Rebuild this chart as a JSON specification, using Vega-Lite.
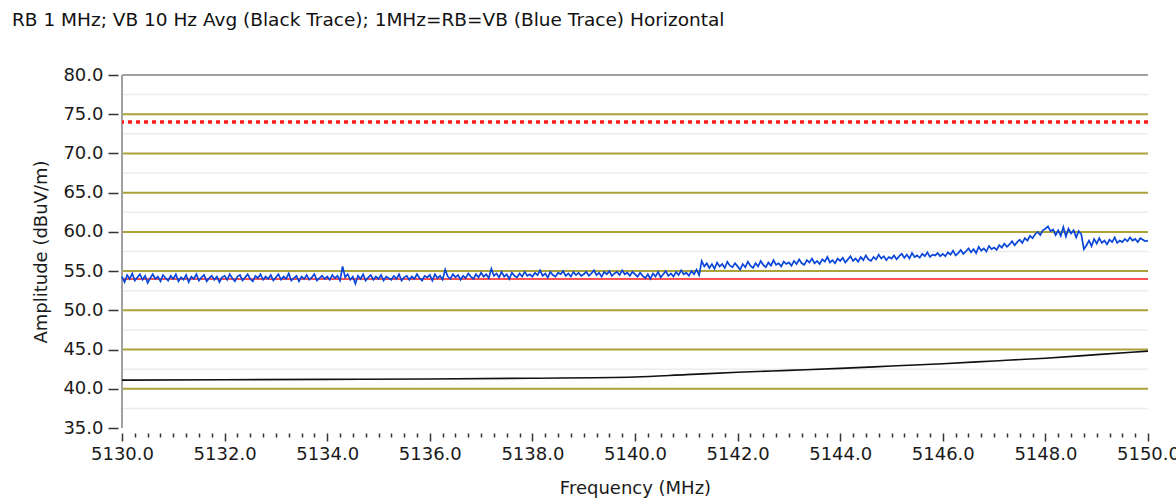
{
  "$schema": "https://vega.github.io/schema/vega-lite/v6.json",
  "autosize": "none",
  "width": 1026,
  "height": 353,
  "padding": {"left": 122, "top": 75, "right": 28, "bottom": 75},
  "background": "white",
  "config": {"view": {"stroke": null}, "font": "DejaVu Sans"},
  "title": {"text": "RB 1 MHz; VB 10 Hz Avg (Black Trace); 1MHz=RB=VB (Blue Trace) Horizontal", "anchor": "start", "frame": "group", "dx": -110, "offset": 37, "fontSize": 18.5, "fontWeight": "normal", "color": "#111", "font": "DejaVu Sans"},
  "datasets": {
    "minorgrid": [{"y": 37.5}, {"y": 42.5}, {"y": 47.5}, {"y": 52.5}, {"y": 57.5}, {"y": 62.5}, {"y": 67.5}, {"y": 72.5}, {"y": 77.5}],
    "majorgrid": [{"y": 40}, {"y": 45}, {"y": 50}, {"y": 55}, {"y": 60}, {"y": 65}, {"y": 70}, {"y": 75}],
    "limits": [{"y": 54, "kind": "avg"}, {"y": 74, "kind": "peak"}],
    "black": [
      {"f": 5130, "a": 41.1}, {"f": 5132, "a": 41.15}, {"f": 5134, "a": 41.2}, {"f": 5136, "a": 41.25}, {"f": 5138, "a": 41.35}, {"f": 5140, "a": 41.5}, {"f": 5141, "a": 41.8}, {"f": 5142, "a": 42.1}, {"f": 5143, "a": 42.35}, {"f": 5144, "a": 42.6}, {"f": 5145, "a": 42.9}, {"f": 5146, "a": 43.2}, {"f": 5147, "a": 43.55}, {"f": 5148, "a": 43.9}, {"f": 5149, "a": 44.35}, {"f": 5150, "a": 44.8}
    ],
    "blue": [
      {"f":5130.00,"a":54.3},{"f":5130.05,"a":53.6},{"f":5130.10,"a":54.5},{"f":5130.15,"a":54.0},{"f":5130.20,"a":54.7},{"f":5130.25,"a":53.8},{"f":5130.30,"a":54.2},{"f":5130.35,"a":54.6},{"f":5130.40,"a":53.9},{"f":5130.45,"a":54.4},{"f":5130.50,"a":53.5},{"f":5130.55,"a":54.1},{"f":5130.60,"a":54.6},{"f":5130.65,"a":54.0},{"f":5130.70,"a":54.3},{"f":5130.75,"a":53.7},{"f":5130.80,"a":54.5},{"f":5130.85,"a":54.1},{"f":5130.90,"a":53.8},{"f":5130.95,"a":54.4},
      {"f":5131.00,"a":54.0},{"f":5131.05,"a":54.6},{"f":5131.10,"a":53.7},{"f":5131.15,"a":54.2},{"f":5131.20,"a":53.9},{"f":5131.25,"a":54.5},{"f":5131.30,"a":53.6},{"f":5131.35,"a":54.3},{"f":5131.40,"a":54.0},{"f":5131.45,"a":54.6},{"f":5131.50,"a":53.8},{"f":5131.55,"a":54.2},{"f":5131.60,"a":54.5},{"f":5131.65,"a":53.7},{"f":5131.70,"a":54.1},{"f":5131.75,"a":54.4},{"f":5131.80,"a":53.9},{"f":5131.85,"a":54.3},{"f":5131.90,"a":53.6},{"f":5131.95,"a":54.2},
      {"f":5132.00,"a":54.4},{"f":5132.05,"a":53.9},{"f":5132.10,"a":54.6},{"f":5132.15,"a":54.1},{"f":5132.20,"a":53.7},{"f":5132.25,"a":54.3},{"f":5132.30,"a":54.5},{"f":5132.35,"a":53.8},{"f":5132.40,"a":54.2},{"f":5132.45,"a":54.6},{"f":5132.50,"a":54.0},{"f":5132.55,"a":53.7},{"f":5132.60,"a":54.4},{"f":5132.65,"a":54.1},{"f":5132.70,"a":54.6},{"f":5132.75,"a":53.9},{"f":5132.80,"a":54.3},{"f":5132.85,"a":54.0},{"f":5132.90,"a":54.5},{"f":5132.95,"a":53.8},
      {"f":5133.00,"a":54.2},{"f":5133.05,"a":54.6},{"f":5133.10,"a":53.9},{"f":5133.15,"a":54.3},{"f":5133.20,"a":54.0},{"f":5133.25,"a":54.7},{"f":5133.30,"a":53.8},{"f":5133.35,"a":54.1},{"f":5133.40,"a":54.4},{"f":5133.45,"a":53.7},{"f":5133.50,"a":54.3},{"f":5133.55,"a":54.0},{"f":5133.60,"a":54.5},{"f":5133.65,"a":53.9},{"f":5133.70,"a":54.2},{"f":5133.75,"a":54.6},{"f":5133.80,"a":53.8},{"f":5133.85,"a":54.1},{"f":5133.90,"a":54.4},{"f":5133.95,"a":54.0},
      {"f":5134.00,"a":54.3},{"f":5134.05,"a":53.9},{"f":5134.10,"a":54.5},{"f":5134.15,"a":54.1},{"f":5134.20,"a":54.4},{"f":5134.25,"a":53.8},{"f":5134.30,"a":55.6},{"f":5134.35,"a":54.2},{"f":5134.40,"a":54.6},{"f":5134.45,"a":53.9},{"f":5134.50,"a":54.3},{"f":5134.55,"a":53.4},{"f":5134.60,"a":54.4},{"f":5134.65,"a":54.0},{"f":5134.70,"a":54.6},{"f":5134.75,"a":53.8},{"f":5134.80,"a":54.2},{"f":5134.85,"a":54.5},{"f":5134.90,"a":53.9},{"f":5134.95,"a":54.3},
      {"f":5135.00,"a":54.0},{"f":5135.05,"a":54.5},{"f":5135.10,"a":53.8},{"f":5135.15,"a":54.3},{"f":5135.20,"a":54.1},{"f":5135.25,"a":53.9},{"f":5135.30,"a":54.4},{"f":5135.35,"a":54.0},{"f":5135.40,"a":54.6},{"f":5135.45,"a":53.8},{"f":5135.50,"a":54.2},{"f":5135.55,"a":54.4},{"f":5135.60,"a":53.9},{"f":5135.65,"a":54.3},{"f":5135.70,"a":54.0},{"f":5135.75,"a":54.6},{"f":5135.80,"a":54.1},{"f":5135.85,"a":53.8},{"f":5135.90,"a":54.4},{"f":5135.95,"a":54.2},
      {"f":5136.00,"a":54.5},{"f":5136.05,"a":53.8},{"f":5136.10,"a":54.6},{"f":5136.15,"a":54.1},{"f":5136.20,"a":54.4},{"f":5136.25,"a":53.9},{"f":5136.30,"a":55.2},{"f":5136.35,"a":54.3},{"f":5136.40,"a":54.0},{"f":5136.45,"a":54.6},{"f":5136.50,"a":54.2},{"f":5136.55,"a":54.5},{"f":5136.60,"a":53.9},{"f":5136.65,"a":54.4},{"f":5136.70,"a":54.1},{"f":5136.75,"a":54.7},{"f":5136.80,"a":54.3},{"f":5136.85,"a":54.0},{"f":5136.90,"a":54.6},{"f":5136.95,"a":54.2},
      {"f":5137.00,"a":54.8},{"f":5137.05,"a":54.3},{"f":5137.10,"a":54.6},{"f":5137.15,"a":54.1},{"f":5137.20,"a":55.3},{"f":5137.25,"a":54.4},{"f":5137.30,"a":54.7},{"f":5137.35,"a":54.2},{"f":5137.40,"a":54.9},{"f":5137.45,"a":54.3},{"f":5137.50,"a":54.6},{"f":5137.55,"a":54.0},{"f":5137.60,"a":54.8},{"f":5137.65,"a":54.4},{"f":5137.70,"a":54.2},{"f":5137.75,"a":54.7},{"f":5137.80,"a":54.3},{"f":5137.85,"a":54.9},{"f":5137.90,"a":54.4},{"f":5137.95,"a":54.6},
      {"f":5138.00,"a":54.3},{"f":5138.05,"a":54.8},{"f":5138.10,"a":54.5},{"f":5138.15,"a":55.1},{"f":5138.20,"a":54.4},{"f":5138.25,"a":54.7},{"f":5138.30,"a":54.2},{"f":5138.35,"a":54.9},{"f":5138.40,"a":54.5},{"f":5138.45,"a":54.3},{"f":5138.50,"a":54.8},{"f":5138.55,"a":54.6},{"f":5138.60,"a":55.0},{"f":5138.65,"a":54.4},{"f":5138.70,"a":54.7},{"f":5138.75,"a":54.3},{"f":5138.80,"a":54.9},{"f":5138.85,"a":54.5},{"f":5138.90,"a":54.8},{"f":5138.95,"a":54.4},
      {"f":5139.00,"a":54.6},{"f":5139.05,"a":54.9},{"f":5139.10,"a":54.4},{"f":5139.15,"a":54.7},{"f":5139.20,"a":55.1},{"f":5139.25,"a":54.5},{"f":5139.30,"a":54.8},{"f":5139.35,"a":54.3},{"f":5139.40,"a":54.9},{"f":5139.45,"a":54.6},{"f":5139.50,"a":55.0},{"f":5139.55,"a":54.4},{"f":5139.60,"a":54.7},{"f":5139.65,"a":54.9},{"f":5139.70,"a":54.5},{"f":5139.75,"a":55.1},{"f":5139.80,"a":54.6},{"f":5139.85,"a":54.8},{"f":5139.90,"a":54.4},{"f":5139.95,"a":54.9},
      {"f":5140.00,"a":54.6},{"f":5140.05,"a":54.3},{"f":5140.10,"a":54.8},{"f":5140.15,"a":54.4},{"f":5140.20,"a":54.1},{"f":5140.25,"a":54.6},{"f":5140.30,"a":54.0},{"f":5140.35,"a":54.7},{"f":5140.40,"a":54.3},{"f":5140.45,"a":54.9},{"f":5140.50,"a":54.2},{"f":5140.55,"a":54.6},{"f":5140.60,"a":55.0},{"f":5140.65,"a":54.4},{"f":5140.70,"a":54.7},{"f":5140.75,"a":54.3},{"f":5140.80,"a":54.9},{"f":5140.85,"a":54.5},{"f":5140.90,"a":55.1},{"f":5140.95,"a":54.6},
      {"f":5141.00,"a":54.8},{"f":5141.05,"a":54.4},{"f":5141.10,"a":55.0},{"f":5141.15,"a":54.6},{"f":5141.20,"a":55.2},{"f":5141.25,"a":54.5},{"f":5141.30,"a":56.3},{"f":5141.35,"a":55.6},{"f":5141.40,"a":56.0},{"f":5141.45,"a":55.4},{"f":5141.50,"a":55.9},{"f":5141.55,"a":55.3},{"f":5141.60,"a":56.1},{"f":5141.65,"a":55.6},{"f":5141.70,"a":55.9},{"f":5141.75,"a":55.4},{"f":5141.80,"a":56.2},{"f":5141.85,"a":55.7},{"f":5141.90,"a":55.5},{"f":5141.95,"a":56.0},
      {"f":5142.00,"a":55.6},{"f":5142.05,"a":55.2},{"f":5142.10,"a":55.9},{"f":5142.15,"a":55.5},{"f":5142.20,"a":56.2},{"f":5142.25,"a":55.7},{"f":5142.30,"a":55.4},{"f":5142.35,"a":56.0},{"f":5142.40,"a":55.6},{"f":5142.45,"a":56.3},{"f":5142.50,"a":55.8},{"f":5142.55,"a":55.5},{"f":5142.60,"a":56.1},{"f":5142.65,"a":55.7},{"f":5142.70,"a":56.4},{"f":5142.75,"a":55.8},{"f":5142.80,"a":56.0},{"f":5142.85,"a":55.6},{"f":5142.90,"a":56.2},{"f":5142.95,"a":55.9},
      {"f":5143.00,"a":56.1},{"f":5143.05,"a":55.7},{"f":5143.10,"a":56.3},{"f":5143.15,"a":55.9},{"f":5143.20,"a":56.5},{"f":5143.25,"a":56.0},{"f":5143.30,"a":55.8},{"f":5143.35,"a":56.4},{"f":5143.40,"a":56.1},{"f":5143.45,"a":56.6},{"f":5143.50,"a":56.0},{"f":5143.55,"a":56.3},{"f":5143.60,"a":55.9},{"f":5143.65,"a":56.5},{"f":5143.70,"a":56.2},{"f":5143.75,"a":56.8},{"f":5143.80,"a":56.1},{"f":5143.85,"a":56.4},{"f":5143.90,"a":56.0},{"f":5143.95,"a":56.6},
      {"f":5144.00,"a":56.3},{"f":5144.05,"a":56.7},{"f":5144.10,"a":56.1},{"f":5144.15,"a":56.5},{"f":5144.20,"a":56.9},{"f":5144.25,"a":56.3},{"f":5144.30,"a":56.6},{"f":5144.35,"a":56.2},{"f":5144.40,"a":56.8},{"f":5144.45,"a":56.4},{"f":5144.50,"a":57.0},{"f":5144.55,"a":56.5},{"f":5144.60,"a":56.3},{"f":5144.65,"a":56.8},{"f":5144.70,"a":56.5},{"f":5144.75,"a":57.1},{"f":5144.80,"a":56.6},{"f":5144.85,"a":56.9},{"f":5144.90,"a":56.4},{"f":5144.95,"a":56.8},
      {"f":5145.00,"a":56.6},{"f":5145.05,"a":57.0},{"f":5145.10,"a":56.5},{"f":5145.15,"a":56.9},{"f":5145.20,"a":57.2},{"f":5145.25,"a":56.7},{"f":5145.30,"a":57.1},{"f":5145.35,"a":56.6},{"f":5145.40,"a":57.3},{"f":5145.45,"a":56.8},{"f":5145.50,"a":57.0},{"f":5145.55,"a":56.7},{"f":5145.60,"a":57.2},{"f":5145.65,"a":56.9},{"f":5145.70,"a":57.4},{"f":5145.75,"a":56.8},{"f":5145.80,"a":57.1},{"f":5145.85,"a":57.0},{"f":5145.90,"a":57.3},{"f":5145.95,"a":56.9},
      {"f":5146.00,"a":57.2},{"f":5146.05,"a":56.9},{"f":5146.10,"a":57.4},{"f":5146.15,"a":57.1},{"f":5146.20,"a":57.6},{"f":5146.25,"a":57.0},{"f":5146.30,"a":57.3},{"f":5146.35,"a":57.7},{"f":5146.40,"a":57.2},{"f":5146.45,"a":57.5},{"f":5146.50,"a":57.9},{"f":5146.55,"a":57.4},{"f":5146.60,"a":57.8},{"f":5146.65,"a":57.3},{"f":5146.70,"a":58.1},{"f":5146.75,"a":57.6},{"f":5146.80,"a":57.9},{"f":5146.85,"a":57.5},{"f":5146.90,"a":58.2},{"f":5146.95,"a":57.8},
      {"f":5147.00,"a":58.0},{"f":5147.05,"a":57.7},{"f":5147.10,"a":58.3},{"f":5147.15,"a":58.0},{"f":5147.20,"a":58.5},{"f":5147.25,"a":58.1},{"f":5147.30,"a":58.4},{"f":5147.35,"a":58.8},{"f":5147.40,"a":58.3},{"f":5147.45,"a":58.7},{"f":5147.50,"a":59.0},{"f":5147.55,"a":58.6},{"f":5147.60,"a":59.2},{"f":5147.65,"a":58.9},{"f":5147.70,"a":59.5},{"f":5147.75,"a":59.2},{"f":5147.80,"a":59.7},{"f":5147.85,"a":60.0},{"f":5147.90,"a":59.6},{"f":5147.95,"a":60.2},
      {"f":5148.00,"a":60.4},{"f":5148.05,"a":60.7},{"f":5148.10,"a":60.1},{"f":5148.15,"a":60.3},{"f":5148.20,"a":59.6},{"f":5148.25,"a":60.2},{"f":5148.30,"a":59.5},{"f":5148.35,"a":60.6},{"f":5148.40,"a":59.4},{"f":5148.45,"a":60.4},{"f":5148.50,"a":59.8},{"f":5148.55,"a":60.2},{"f":5148.60,"a":59.3},{"f":5148.65,"a":60.1},{"f":5148.70,"a":59.7},{"f":5148.75,"a":57.8},{"f":5148.80,"a":58.3},{"f":5148.85,"a":58.9},{"f":5148.90,"a":58.2},{"f":5148.95,"a":59.1},
      {"f":5149.00,"a":58.5},{"f":5149.05,"a":59.2},{"f":5149.10,"a":58.6},{"f":5149.15,"a":58.9},{"f":5149.20,"a":58.4},{"f":5149.25,"a":59.0},{"f":5149.30,"a":58.7},{"f":5149.35,"a":59.3},{"f":5149.40,"a":58.6},{"f":5149.45,"a":58.9},{"f":5149.50,"a":58.7},{"f":5149.55,"a":59.1},{"f":5149.60,"a":58.8},{"f":5149.65,"a":59.3},{"f":5149.70,"a":58.9},{"f":5149.75,"a":59.1},{"f":5149.80,"a":58.7},{"f":5149.85,"a":59.2},{"f":5149.90,"a":59.0},{"f":5149.95,"a":58.8},
      {"f":5150.00,"a":58.9}
    ],
    "frame": [{"f": 5130, "a": 80}]
  },
  "resolve": {"axis": {"x": "independent", "y": "independent"}},
  "layer": [
    {
      "data": {"name": "minorgrid"},
      "mark": {"type": "rule", "color": "#ececec", "strokeWidth": 1.5},
      "encoding": {"y": {"field": "y", "type": "quantitative", "scale": {"domain": [35, 80], "nice": false}, "axis": null}}
    },
    {
      "data": {"name": "majorgrid"},
      "mark": {"type": "rule", "color": "#aba23a", "strokeWidth": 2},
      "encoding": {"y": {"field": "y", "type": "quantitative", "axis": null}}
    },
    {
      "data": {"name": "frame"},
      "mark": {"type": "rule", "color": "#a0a0a0", "strokeWidth": 2},
      "encoding": {"y": {"field": "a", "type": "quantitative", "axis": null}}
    },
    {
      "data": {"name": "frame"},
      "mark": {"type": "rule", "color": "#a0a0a0", "strokeWidth": 2},
      "encoding": {"x": {"field": "f", "type": "quantitative", "scale": {"domain": [5130, 5150], "nice": false, "zero": false}, "axis": null}}
    },
    {
      "data": {"name": "limits"},
      "transform": [{"filter": "datum.kind == 'avg'"}],
      "mark": {"type": "rule", "color": "#ff1a1a", "strokeWidth": 1.5},
      "encoding": {"y": {"field": "y", "type": "quantitative", "axis": null}}
    },
    {
      "data": {"name": "limits"},
      "transform": [{"filter": "datum.kind == 'peak'"}],
      "mark": {"type": "rule", "color": "#ff1a1a", "strokeWidth": 3.5, "strokeDash": [4, 4]},
      "encoding": {"y": {"field": "y", "type": "quantitative", "axis": null}}
    },
    {
      "data": {"name": "black"},
      "mark": {"type": "line", "color": "#111111", "strokeWidth": 1.6, "interpolate": "monotone"},
      "encoding": {
        "x": {"field": "f", "type": "quantitative", "axis": {"orient": "bottom", "values": [5130.25, 5130.5, 5130.75, 5131, 5131.25, 5131.5, 5131.75, 5132.25, 5132.5, 5132.75, 5133, 5133.25, 5133.5, 5133.75, 5134.25, 5134.5, 5134.75, 5135, 5135.25, 5135.5, 5135.75, 5136.25, 5136.5, 5136.75, 5137, 5137.25, 5137.5, 5137.75, 5138.25, 5138.5, 5138.75, 5139, 5139.25, 5139.5, 5139.75, 5140.25, 5140.5, 5140.75, 5141, 5141.25, 5141.5, 5141.75, 5142.25, 5142.5, 5142.75, 5143, 5143.25, 5143.5, 5143.75, 5144.25, 5144.5, 5144.75, 5145, 5145.25, 5145.5, 5145.75, 5146.25, 5146.5, 5146.75, 5147, 5147.25, 5147.5, 5147.75, 5148.25, 5148.5, 5148.75, 5149, 5149.25, 5149.5, 5149.75], "labels": false, "domain": false, "grid": false, "tickSize": 4, "tickWidth": 1.5, "tickColor": "#333", "offset": 5, "title": null}},
        "y": {"field": "a", "type": "quantitative", "axis": null}
      }
    },
    {
      "data": {"name": "blue"},
      "mark": {"type": "line", "color": "#0a46d8", "strokeWidth": 1.7},
      "encoding": {
        "x": {"field": "f", "type": "quantitative", "axis": {"orient": "bottom", "values": [5130, 5132, 5134, 5136, 5138, 5140, 5142, 5144, 5146, 5148, 5150], "format": ".1f", "domain": false, "grid": false, "tickSize": 8, "tickWidth": 1.5, "tickColor": "#333", "offset": 5, "labelFont": "DejaVu Sans", "labelFontSize": 18, "labelColor": "#1a1a1a", "labelPadding": 4, "labelFlush": false, "labelOverlap": false, "title": "Frequency (MHz)", "titleFont": "DejaVu Sans", "titleFontSize": 18, "titleFontWeight": "normal", "titleColor": "#1a1a1a", "titlePadding": 16}},
        "y": {"field": "a", "type": "quantitative", "axis": {"orient": "left", "values": [35, 40, 45, 50, 55, 60, 65, 70, 75, 80], "format": ".1f", "domain": false, "grid": false, "tickSize": 10, "tickWidth": 1.5, "tickColor": "#333", "offset": 4, "labelFont": "DejaVu Sans", "labelFontSize": 18, "labelColor": "#1a1a1a", "labelPadding": 5, "labelFlush": false, "labelOverlap": false, "title": "Amplitude (dBuV/m)", "titleFont": "DejaVu Sans", "titleFontSize": 18, "titleFontWeight": "normal", "titleColor": "#1a1a1a", "titlePadding": 12}}
      }
    }
  ]
}
